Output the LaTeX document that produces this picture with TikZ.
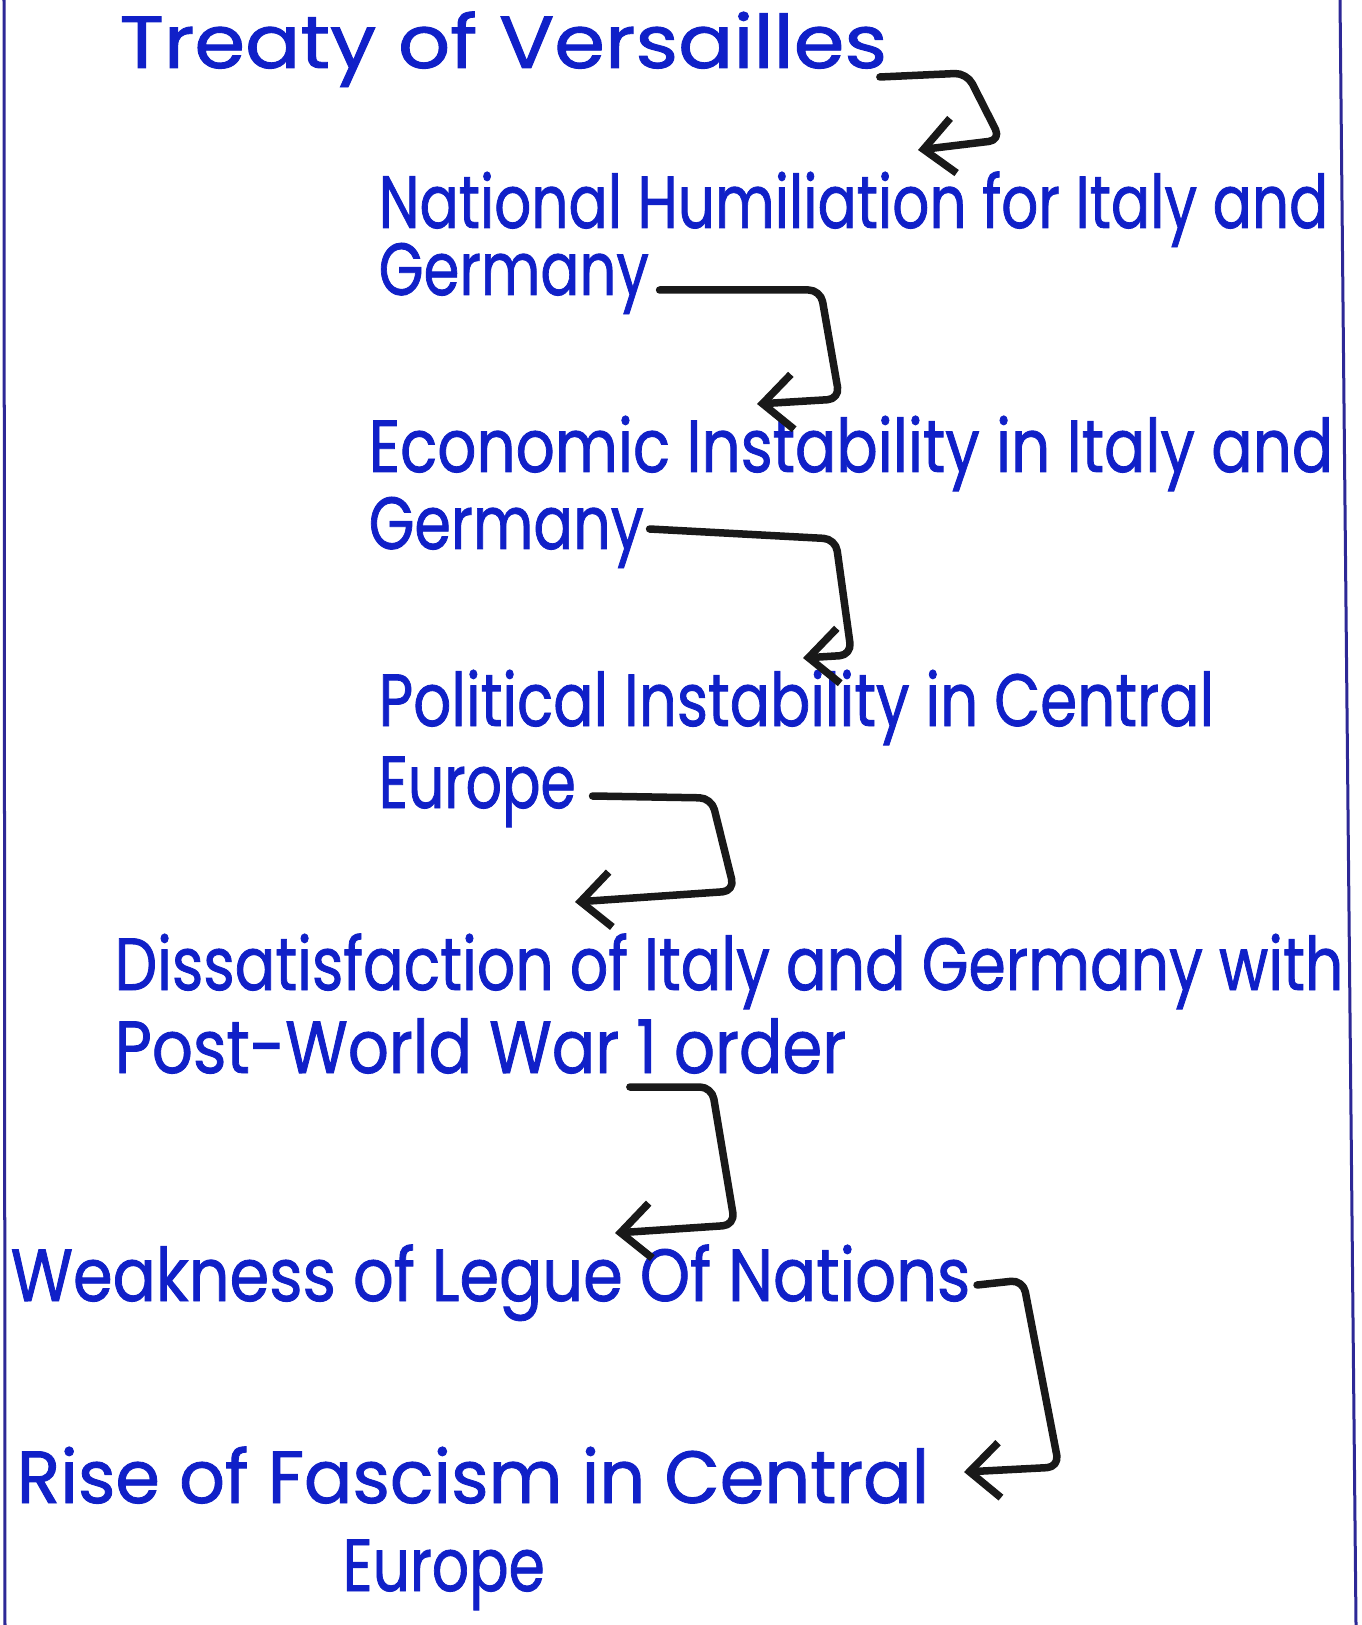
\documentclass[tikz,border=0pt]{standalone}
\usepackage{fontspec}
\setmainfont{Poppins}[FakeBold=1.2]
\usepackage{graphicx}
\usetikzlibrary{arrows.meta}
\definecolor{ink}{RGB}{16,32,200}
\definecolor{rule}{RGB}{45,40,150}
\definecolor{pen}{RGB}{25,25,25}
\newcommand\hw[2]{\resizebox{#1}{\height}{#2}}
\begin{document}
\begin{tikzpicture}[x=0.01cm,y=-0.01cm,
  txt/.style={anchor=base west,inner sep=0pt,text=ink,font=\fontsize{21}{25}\selectfont},
  conn/.style={draw=pen,line width=0.075cm,line cap=round,line join=round,rounded corners=0.12cm,
    -{Straight Barb[length=0.3cm,width=0.55cm,line width=0.075cm]}}]
\useasboundingbox (0,0) rectangle (1361,1625);
\fill[white] (0,0) rectangle (1361,1625);
% page rules
\draw[rule,line width=0.03cm] (4,0) -- (5,1625);
\draw[rule,line width=0.03cm] (1340,0) -- (1356,1625);
% texts
\node[txt] (t1) at (119,68) {\hw{7.67cm}{Treaty of Versailles}};
\node[txt] (n1) at (378,228) {\hw{9.49cm}{National Humiliation for Italy and}};
\node[txt] (n2) at (378,295) {\hw{2.70cm}{Germany}};
\node[txt] (e1) at (368,472) {\hw{9.64cm}{Economic Instability in Italy and}};
\node[txt] (e2) at (368,549) {\hw{2.75cm}{Germany}};
\node[txt] (p1) at (378,726) {\hw{8.35cm}{Political Instability in Central}};
\node[txt] (p2) at (378,808) {\hw{1.97cm}{Europe}};
\node[txt] (d1) at (114,990) {\hw{12.28cm}{Dissatisfaction of Italy and Germany with}};
\node[txt] (d2) at (114,1073) {\hw{7.31cm}{Post-World War 1 order}};
\node[txt] (w1) at (10,1301) {\hw{9.59cm}{Weakness of Legue Of Nations}};
\node[txt] (r1) at (16,1503) {\hw{9.12cm}{Rise of Fascism in Central}};
\node[txt] (r2) at (342,1591) {\hw{2.02cm}{Europe}};
% arrow tips
\coordinate (tip1) at (918,150);
\coordinate (tip2) at (757,404);
\coordinate (tip3) at (803,658);
\coordinate (tip4) at (575,902);
\coordinate (tip5) at (615,1233);
\coordinate (tip6) at (964,1472);
% connectors
\draw[conn] ([shift={(-8,9)}]t1.base east) -- ++(87,-4) -- ++(34,67) -- (tip1);
\draw[conn] ([shift={(10,-5)}]n2.base east) -- ++(161,0) -- ++(19,109) -- (tip2);
\draw[conn] ([shift={(5,-20)}]e2.base east) -- ++(186,10) -- ++(16,116) -- (tip3);
\draw[conn] ([shift={(16,-12)}]p2.base east) -- ++(119,2) -- ++(23,93) -- (tip4);
\draw[conn] ([shift={(-217,14)}]d2.base east) -- ++(82,0) -- ++(23,138) -- (tip5);
\draw[conn] ([shift={(6,-16)}]w1.base east) -- ++(46,-5) -- ++(36,187) -- (tip6);
\end{tikzpicture}
\end{document}
